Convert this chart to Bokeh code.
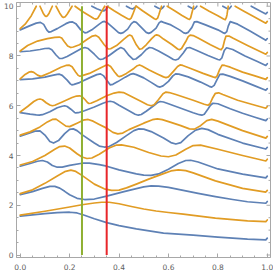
from bokeh.plotting import figure
from bokeh.models import LinearAxis, FixedTicker, Range1d, NumeralTickFormatter
from bokeh.embed import file_html
from bokeh.resources import INLINE

NaN = float("nan")

# ---- tick positions ----
x_major = [0.0, 0.2, 0.4, 0.6, 0.8, 1.0]
x_minor = [0.05, 0.1, 0.15, 0.25, 0.3, 0.35, 0.45, 0.5, 0.55, 0.65, 0.7, 0.75, 0.85, 0.9, 0.95]
y_major = [0, 2, 4, 6, 8, 10]
y_minor = [0.5, 1, 1.5, 2.5, 3, 3.5, 4.5, 5, 5.5, 6.5, 7, 7.5, 8.5, 9, 9.5]

# ---- vertical marker lines ----
marker_x = [0.25, 0.35]

# ---- blue family ----
b1_x = [0, 0.05, 0.1, 0.15, 0.2, 0.23, 0.26, 0.3, 0.35, 0.4, 0.47, 0.58, 0.7, 0.8, 0.92, 0.994, 1.0]
b1_y = [1.56, 1.61, 1.66, 1.7, 1.72, 1.69, 1.6, 1.46, 1.3, 1.18, 1.05, 0.88, 0.8, 0.72, 0.64, 0.61, 0.68]

b2_x = [0, 0.05, 0.09, 0.12, 0.14, 0.16, 0.18, 0.2, 0.23, 0.26, 0.3, 0.35, 0.42, 0.47, 0.5, 0.53, 0.56, 0.6, 0.66, 0.72, 0.79, 0.86, 0.92, 0.994, 1.0]
b2_y = [2.43, 2.55, 2.68, 2.76, 2.76, 2.69, 2.56, 2.42, 2.28, 2.23, 2.25, 2.37, 2.55, 2.67, 2.74, 2.78, 2.77, 2.72, 2.6, 2.48, 2.35, 2.23, 2.14, 2.08, 2.15]

b3_x = [0, 0.04, 0.07, 0.09, 0.11, 0.13, 0.15, 0.17, 0.2, 0.25, 0.28, 0.32, 0.35, 0.4, 0.47, 0.5, 0.53, 0.56, 0.6, 0.64, 0.67, 0.69, 0.72, 0.8, 0.9, 0.994, 1.0]
b3_y = [3.57, 3.68, 3.77, 3.8, 3.74, 3.6, 3.53, 3.53, 3.6, 3.69, 3.69, 3.63, 3.57, 3.42, 3.26, 3.21, 3.2, 3.26, 3.45, 3.68, 3.8, 3.81, 3.74, 3.46, 3.25, 3.1, 3.17]

b4_x = [0, 0.03, 0.06, 0.08, 0.1, 0.12, 0.135, 0.155, 0.18, 0.2, 0.215, 0.23, 0.25, 0.3, 0.32, 0.34, 0.36, 0.39, 0.43, 0.46, 0.48, 0.5, 0.53, 0.58, 0.61, 0.63, 0.65, 0.68, 0.71, 0.735, 0.76, 0.8, 0.9, 0.994, 1.0]
b4_y = [4.78, 4.88, 4.98, 4.99, 4.82, 4.56, 4.5, 4.6, 4.88, 5.05, 5.07, 5.0, 4.84, 4.5, 4.38, 4.34, 4.36, 4.52, 4.8, 5.0, 5.07, 5.06, 4.96, 4.7, 4.52, 4.46, 4.52, 4.8, 5.02, 5.09, 5.04, 4.85, 4.5, 4.26, 4.33]

b5_x = [0, 0.04, 0.065, 0.077, 0.09, 0.12, 0.15, 0.17, 0.18, 0.19, 0.205, 0.22, 0.225, 0.235, 0.26, 0.3, 0.335, 0.352, 0.364, 0.378, 0.4, 0.44, 0.465, 0.478, 0.49, 0.51, 0.54, 0.555, 0.566, 0.58, 0.6, 0.65, 0.7, 0.725, 0.735, 0.745, 0.76, 0.77, 0.78, 0.8, 0.85, 0.9, 0.95, 0.994, 1.0]
b5_y = [5.72, 5.66, 5.63, 5.62, 5.64, 5.76, 5.92, 5.98, 6.0, 5.97, 5.86, 5.73, 5.71, 5.72, 5.8, 5.95, 6.1, 6.16, 6.18, 6.15, 6.02, 5.8, 5.66, 5.62, 5.65, 5.78, 6.0, 6.12, 6.17, 6.15, 6.08, 5.9, 5.72, 5.64, 5.62, 5.66, 5.87, 6.02, 6.1, 6.08, 5.88, 5.7, 5.54, 5.4, 5.47]

b6_x = [0, 0.05, 0.1, 0.13, 0.15, 0.159, 0.17, 0.19, 0.203, 0.209, 0.218, 0.24, 0.28, 0.31, 0.325, 0.338, 0.352, 0.364, 0.375, 0.395, 0.425, 0.445, 0.457, 0.47, 0.5, 0.53, 0.555, 0.566, 0.578, 0.6, 0.618, 0.629, 0.642, 0.68, 0.73, 0.765, 0.775, 0.785, 0.798, 0.808, 0.82, 0.85, 0.9, 0.95, 0.994, 1.0]
b6_y = [7.05, 7.08, 7.15, 7.22, 7.26, 7.27, 7.22, 7.03, 6.88, 6.84, 6.86, 6.93, 7.12, 7.25, 7.28, 7.2, 7.0, 6.84, 6.86, 6.97, 7.15, 7.26, 7.29, 7.25, 7.12, 6.94, 6.78, 6.75, 6.8, 6.98, 7.2, 7.28, 7.27, 7.16, 6.95, 6.78, 6.75, 6.82, 7.08, 7.26, 7.27, 7.18, 7.0, 6.8, 6.62, 6.69]

b7_x = [0, 0.04, 0.08, 0.1, 0.116, 0.128, 0.145, 0.159, 0.17, 0.19, 0.23, 0.25, 0.262, 0.275, 0.3, 0.318, 0.325, 0.335, 0.36, 0.39, 0.407, 0.42, 0.44, 0.457, 0.468, 0.49, 0.51, 0.523, 0.535, 0.56, 0.6, 0.62, 0.629, 0.64, 0.66, 0.674, 0.686, 0.71, 0.76, 0.8, 0.808, 0.816, 0.826, 0.835, 0.86, 0.91, 0.96, 0.994, 1.0]
b7_y = [8.17, 8.2, 8.26, 8.3, 8.31, 8.25, 8.04, 7.9, 7.9, 7.98, 8.2, 8.31, 8.34, 8.3, 8.07, 7.89, 7.86, 7.88, 8.02, 8.24, 8.34, 8.28, 8.02, 7.86, 7.88, 8.05, 8.26, 8.34, 8.32, 8.2, 7.98, 7.86, 7.84, 7.88, 8.12, 8.32, 8.34, 8.24, 8.02, 7.86, 7.84, 7.92, 8.22, 8.33, 8.26, 8.0, 7.78, 7.62, 7.69]

b8_x = [0, 0.04, 0.065, 0.082, 0.095, 0.108, 0.116, 0.126, 0.15, 0.185, 0.2, 0.212, 0.225, 0.245, 0.262, 0.272, 0.29, 0.32, 0.333, 0.341, 0.352, 0.38, 0.398, 0.407, 0.417, 0.435, 0.45, 0.46, 0.47, 0.49, 0.51, 0.52, 0.53, 0.55, 0.562, 0.57, 0.58, 0.61, 0.645, 0.662, 0.67, 0.68, 0.695, 0.705, 0.715, 0.75, 0.8, 0.82, 0.828, 0.836, 0.842, 0.85, 0.88, 0.93, 0.994, 1.0]
b8_y = [9.05, 9.22, 9.32, 9.35, 9.27, 9.04, 8.96, 8.98, 9.1, 9.3, 9.36, 9.37, 9.3, 9.05, 8.93, 8.95, 9.05, 9.28, 9.37, 9.39, 9.34, 9.1, 8.94, 8.91, 8.94, 9.08, 9.3, 9.38, 9.35, 9.15, 8.95, 8.91, 8.95, 9.12, 9.33, 9.39, 9.35, 9.25, 9.05, 8.93, 8.91, 8.95, 9.15, 9.37, 9.38, 9.25, 9.05, 8.94, 8.91, 8.98, 9.2, 9.38, 9.28, 9.0, 8.63, 8.7]

b9_x = [0.29, 0.31, 0.328, 0.338, 0.348, 0.356, NaN,
        0.43, 0.445, 0.455, 0.463, 0.469, NaN,
        0.545, 0.56, 0.57, 0.577, 0.582, NaN,
        0.68, 0.695, 0.705, 0.711, 0.715, NaN,
        0.82, 0.835, 0.845, 0.85, 0.854, NaN,
        0.935, 0.965, 0.994, 1.0]
b9_y = [10.0, 9.9, 9.83, 9.81, 9.88, 10.0, NaN,
        10.0, 9.92, 9.89, 9.94, 10.0, NaN,
        10.0, 9.92, 9.89, 9.94, 10.0, NaN,
        10.0, 9.92, 9.89, 9.95, 10.0, NaN,
        10.0, 9.92, 9.89, 9.95, 10.0, NaN,
        10.0, 9.84, 9.69, 9.75]

# ---- orange family ----
o1_x = [0, 0.1, 0.2, 0.25, 0.3, 0.33, 0.36, 0.4, 0.45, 0.5, 0.55, 0.6, 0.66, 0.7, 0.79, 0.92, 0.994, 1.0]
o1_y = [1.6, 1.76, 1.93, 2.02, 2.09, 2.12, 2.12, 2.06, 1.95, 1.85, 1.77, 1.71, 1.64, 1.59, 1.48, 1.37, 1.34, 1.41]

o2_x = [0, 0.05, 0.1, 0.15, 0.18, 0.205, 0.225, 0.25, 0.3, 0.34, 0.37, 0.4, 0.43, 0.47, 0.52, 0.58, 0.61, 0.64, 0.67, 0.7, 0.79, 0.9, 0.994, 1.0]
o2_y = [2.47, 2.62, 2.88, 3.18, 3.35, 3.41, 3.36, 3.2, 2.85, 2.66, 2.6, 2.61, 2.7, 2.85, 3.05, 3.27, 3.38, 3.42, 3.39, 3.3, 2.98, 2.68, 2.53, 2.6]

o3_x = [0, 0.05, 0.1, 0.14, 0.16, 0.18, 0.2, 0.23, 0.25, 0.27, 0.29, 0.32, 0.36, 0.39, 0.41, 0.46, 0.52, 0.57, 0.6, 0.63, 0.67, 0.7, 0.73, 0.8, 0.9, 0.994, 1.0]
o3_y = [3.62, 3.76, 4.0, 4.25, 4.36, 4.38, 4.3, 4.07, 3.94, 3.88, 3.9, 4.05, 4.3, 4.42, 4.43, 4.33, 4.12, 3.98, 3.95, 4.02, 4.25, 4.4, 4.42, 4.25, 4.0, 3.78, 3.85]

o4_x = [0, 0.04, 0.08, 0.11, 0.13, 0.145, 0.165, 0.185, 0.2, 0.23, 0.255, 0.275, 0.295, 0.32, 0.35, 0.375, 0.395, 0.415, 0.44, 0.5, 0.535, 0.555, 0.575, 0.61, 0.65, 0.685, 0.705, 0.73, 0.755, 0.775, 0.8, 0.9, 0.994, 1.0]
o4_y = [4.82, 4.95, 5.15, 5.35, 5.45, 5.46, 5.32, 5.18, 5.16, 5.3, 5.42, 5.45, 5.38, 5.25, 5.1, 4.93, 4.87, 4.9, 5.04, 5.3, 5.44, 5.47, 5.44, 5.33, 5.2, 5.07, 5.06, 5.2, 5.4, 5.45, 5.38, 5.0, 4.7, 4.77]

o5_x = [0, 0.03, 0.055, 0.07, 0.08, 0.09, 0.105, 0.12, 0.13, 0.14, 0.17, 0.21, 0.228, 0.24, 0.25, 0.262, 0.272, 0.278, 0.286, 0.31, 0.35, 0.38, 0.4, 0.418, 0.44, 0.49, 0.515, 0.53, 0.542, 0.56, 0.578, 0.59, 0.603, 0.63, 0.7, 0.745, 0.76, 0.768, 0.778, 0.79, 0.803, 0.82, 0.88, 0.94, 0.994, 1.0]
o5_y = [5.75, 5.97, 6.17, 6.25, 6.27, 6.24, 6.12, 6.03, 6.0, 6.02, 6.15, 6.33, 6.39, 6.4, 6.37, 6.25, 6.13, 6.09, 6.1, 6.2, 6.4, 6.51, 6.55, 6.53, 6.42, 6.17, 6.04, 6.0, 6.04, 6.25, 6.48, 6.55, 6.53, 6.45, 6.22, 6.06, 6.02, 6.08, 6.3, 6.5, 6.52, 6.45, 6.22, 6.05, 5.9, 5.97]

o6_x = [0, 0.02, 0.035, 0.045, 0.055, 0.07, 0.08, 0.09, 0.12, 0.165, 0.185, 0.199, 0.21, 0.225, 0.235, 0.24, 0.248, 0.28, 0.32, 0.343, 0.356, 0.366, 0.382, 0.395, 0.4, 0.408, 0.43, 0.46, 0.474, 0.483, 0.493, 0.52, 0.555, 0.58, 0.59, 0.6, 0.62, 0.637, 0.647, 0.658, 0.69, 0.74, 0.78, 0.79, 0.797, 0.807, 0.817, 0.828, 0.85, 0.9, 0.95, 0.994, 1.0]
o6_y = [7.08, 7.26, 7.35, 7.37, 7.34, 7.23, 7.19, 7.2, 7.33, 7.55, 7.62, 7.63, 7.57, 7.35, 7.22, 7.19, 7.2, 7.3, 7.5, 7.61, 7.64, 7.58, 7.36, 7.2, 7.17, 7.19, 7.3, 7.5, 7.61, 7.64, 7.6, 7.45, 7.28, 7.16, 7.13, 7.16, 7.38, 7.58, 7.64, 7.62, 7.5, 7.3, 7.16, 7.13, 7.2, 7.45, 7.63, 7.62, 7.55, 7.35, 7.2, 7.06, 7.13]

o7_x = [0, 0.03, 0.07, 0.11, 0.14, 0.158, 0.168, 0.178, 0.192, 0.205, 0.215, 0.24, 0.27, 0.292, 0.306, 0.318, 0.34, 0.356, 0.366, 0.39, 0.42, 0.435, 0.443, 0.452, 0.47, 0.483, 0.492, 0.51, 0.532, 0.545, 0.552, 0.562, 0.58, 0.615, 0.637, 0.645, 0.653, 0.67, 0.68, 0.688, 0.7, 0.72, 0.77, 0.805, 0.813, 0.82, 0.827, 0.833, 0.845, 0.86, 0.92, 0.994, 1.0]
o7_y = [8.2, 8.42, 8.6, 8.7, 8.75, 8.76, 8.72, 8.58, 8.4, 8.34, 8.36, 8.45, 8.66, 8.8, 8.83, 8.75, 8.45, 8.28, 8.29, 8.42, 8.68, 8.8, 8.84, 8.8, 8.45, 8.27, 8.29, 8.45, 8.7, 8.82, 8.85, 8.82, 8.68, 8.45, 8.28, 8.25, 8.3, 8.58, 8.78, 8.84, 8.82, 8.72, 8.45, 8.28, 8.25, 8.34, 8.62, 8.8, 8.8, 8.72, 8.42, 8.07, 8.14]

o8_x = [0, 0.02, 0.045, 0.065, NaN,
        0.08, 0.093, 0.1, 0.105, 0.11, 0.117, 0.13, NaN,
        0.145, 0.16, 0.17, 0.175, 0.182, 0.19, 0.21, NaN,
        0.222, 0.25, 0.28, 0.298, 0.306, 0.314, 0.322, 0.342, NaN,
        0.352, 0.38, 0.41, 0.435, 0.443, 0.449, 0.455, 0.468, NaN,
        0.47, 0.495, 0.525, 0.543, 0.55, 0.556, 0.561, 0.572, NaN,
        0.595, 0.625, 0.655, 0.678, 0.685, 0.69, 0.693, 0.702, NaN,
        0.73, 0.765, 0.8, 0.823, 0.83, 0.834, 0.837, 0.842, NaN,
        0.87, 0.9, 0.95, 0.994, 1.0]
o8_y = [9.1, 9.28, 9.62, 10.0, NaN,
        10.0, 9.72, 9.62, 9.59, 9.62, 9.72, 10.0, NaN,
        10.0, 9.72, 9.58, 9.55, 9.58, 9.68, 10.0, NaN,
        10.0, 9.8, 9.62, 9.51, 9.48, 9.52, 9.65, 10.0, NaN,
        10.0, 9.82, 9.64, 9.5, 9.47, 9.52, 9.66, 10.0, NaN,
        10.0, 9.82, 9.62, 9.5, 9.47, 9.52, 9.66, 10.0, NaN,
        10.0, 9.82, 9.63, 9.5, 9.47, 9.54, 9.66, 10.0, NaN,
        10.0, 9.8, 9.62, 9.49, 9.46, 9.54, 9.66, 10.0, NaN,
        10.0, 9.83, 9.56, 9.32, 9.39]

BLUE = "#5E81B5"
ORANGE = "#E19C24"
GREEN = "#8FB032"
RED = "#E8262A"
FRAME = "#A8A8A8"
LABEL = "#5E5E5E"

X0, X1 = -0.015, 1.013
Y0, Y1 = -0.1, 10.15
FW, FH = 254, 255

p = figure(frame_width=FW, frame_height=FH,
           x_range=Range1d(X0, X1), y_range=Range1d(Y0, Y1),
           x_axis_location=None, y_axis_location=None,
           output_backend="svg", toolbar_location=None)
p.grid.visible = False
p.outline_line_color = FRAME
p.outline_line_width = 1
p.background_fill_color = "white"
p.border_fill_color = "white"
p.min_border_left = 1
p.min_border_right = 6
p.min_border_top = 2
p.min_border_bottom = 1


def make_axis(major, minor, fmt, standoff):
    ax = LinearAxis(ticker=FixedTicker(ticks=major, minor_ticks=minor),
                    formatter=NumeralTickFormatter(format=fmt))
    ax.axis_line_color = FRAME
    ax.axis_line_width = 1
    ax.major_tick_line_color = FRAME
    ax.minor_tick_line_color = FRAME
    ax.major_tick_in = 4
    ax.major_tick_out = 0
    ax.minor_tick_in = 2
    ax.minor_tick_out = 0
    ax.major_label_standoff = standoff
    ax.major_label_text_font = "DejaVu Sans"
    ax.major_label_text_font_size = "7.5px"
    ax.major_label_text_color = LABEL
    return ax


p.add_layout(make_axis(x_major, x_minor, "0.0", 6), "below")
p.add_layout(make_axis(y_major, y_minor, "0", 3), "left")

# inward frame ticks on the top and right edges (no labels there)
px_x = (X1 - X0) / FW
px_y = (Y1 - Y0) / FH
top_x = x_major + x_minor
top_len = [4 * px_y] * len(x_major) + [2 * px_y] * len(x_minor)
p.segment(x0=top_x, y0=[Y1] * len(top_x), x1=top_x, y1=[Y1 - L for L in top_len],
          line_color=FRAME, line_width=1)
right_y = y_major + y_minor
right_len = [4 * px_x] * len(y_major) + [2 * px_x] * len(y_minor)
p.segment(x0=[X1] * len(right_y), y0=right_y, x1=[X1 - L for L in right_len], y1=right_y,
          line_color=FRAME, line_width=1)

blue_curves = [(b1_x, b1_y), (b2_x, b2_y), (b3_x, b3_y), (b4_x, b4_y), (b5_x, b5_y),
               (b6_x, b6_y), (b7_x, b7_y), (b8_x, b8_y), (b9_x, b9_y)]
orange_curves = [(o1_x, o1_y), (o2_x, o2_y), (o3_x, o3_y), (o4_x, o4_y), (o5_x, o5_y),
                 (o6_x, o6_y), (o7_x, o7_y), (o8_x, o8_y)]

for xs, ys in blue_curves:
    p.line(xs, ys, line_color=BLUE, line_width=1.7, line_join="round", line_cap="round")
for xs, ys in orange_curves:
    p.line(xs, ys, line_color=ORANGE, line_width=1.7, line_join="round", line_cap="round")

p.segment(x0=marker_x, y0=[0, 0], x1=marker_x, y1=[10, 10],
          line_color=[GREEN, RED], line_width=2)

open("out.html", "w").write(file_html(p, INLINE))
